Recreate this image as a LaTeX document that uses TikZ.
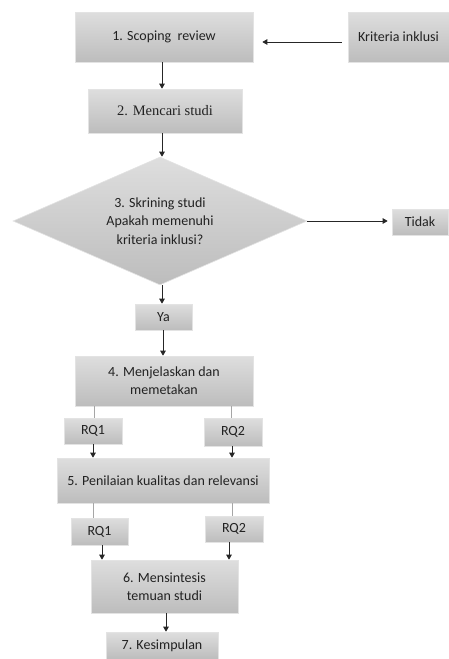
\documentclass[tikz,border=0pt]{standalone}
\usepackage{fontspec}
\setmainfont{Carlito}
\newfontfamily\timesfont{Liberation Serif}
\usetikzlibrary{arrows.meta,shapes.geometric}
\definecolor{txt}{HTML}{222222}
\tikzset{
  x=1pt,y=-1pt,
  boxshape/.style={rectangle,inner sep=0pt,top color=gray!26,bottom color=gray!52,
    draw=gray!22,line width=0.6pt,text=txt,align=center,
    font=\fontsize{14}{18}\selectfont},
  arr/.style={draw=black!85,line width=0.9pt,-{Triangle[length=5pt,width=5.5pt]}},
  gline/.style={draw=gray!70,line width=0.8pt},
}
\begin{document}
\begin{tikzpicture}
\useasboundingbox (0,0) rectangle (449,659);
\node[boxshape,minimum width=178pt,minimum height=50pt] (b1) at (164,37) {1. Scoping\ \ review};
\node[boxshape,minimum width=101pt,minimum height=50pt] (krit) at (398.5,37) {Kriteria inklusi};
\node[boxshape,minimum width=154pt,minimum height=44pt,font=\timesfont\fontsize{14.5}{18}\selectfont] (b2) at (165,111) {2. Mencari studi};
\node[boxshape,diamond,aspect=2.3,minimum width=294pt,minimum height=128pt,font=\fontsize{14}{18.5}\selectfont] (d3) at (160,221) {3. Skrining studi\\Apakah memenuhi\\kriteria inklusi?};
\node[boxshape,minimum width=56pt,minimum height=26pt] (tidak) at (420,222) {Tidak};
\node[boxshape,minimum width=57pt,minimum height=26pt] (ya) at (163.5,317) {Ya};
\node[boxshape,minimum width=178pt,minimum height=50pt] (b4) at (164,381) {4. Menjelaskan dan\\memetakan};
\node[boxshape,minimum width=58pt,minimum height=26pt] (rq1a) at (93,431) {RQ1};
\node[boxshape,minimum width=58pt,minimum height=28pt] (rq2a) at (233,432) {RQ2};
\node[boxshape,minimum width=212pt,minimum height=45pt] (b5) at (163,480.5) {5. Penilaian kualitas dan relevansi};
\node[boxshape,minimum width=57pt,minimum height=27pt] (rq1b) at (99.5,531.5) {RQ1};
\node[boxshape,minimum width=58pt,minimum height=26pt] (rq2b) at (234,529) {RQ2};
\node[boxshape,minimum width=147pt,minimum height=53pt] (b6) at (164.5,586.5) {6. Mensintesis\\temuan studi};
\node[boxshape,minimum width=112pt,minimum height=27pt] (b7) at (162,645.5) {7. Kesimpulan};

\draw[arr] ([xshift=-6pt,yshift=-5pt]krit.west) -- ([xshift=9pt,yshift=-5pt]b1.east);
\draw[arr] (b1.south -| 162,0) -- (b2.north -| 162,0);
\draw[arr] (b2.south -| 162,0) -- (d3.north -| 162,0);
\draw[arr] (d3.east) -- ([xshift=-4pt]tidak.west |- d3.east);
\draw[arr] (d3.south -| 162,0) -- (ya.north -| 162,0);
\draw[arr] (ya.south -| 163,0) -- (b4.north -| 163,0);
\draw[gline] (b4.south -| 94,0) -- (rq1a.north -| 94,0);
\draw[gline] (b4.south -| 231,0) -- (rq2a.north -| 231,0);
\draw[arr] (rq1a.south -| 93,0) -- (b5.north -| 93,0);
\draw[arr] (rq2a.south -| 232,0) -- (b5.north -| 232,0);
\draw[gline] (b5.south -| 93,0) -- (rq1b.north -| 93,0);
\draw[gline] (b5.south -| 232,0) -- (rq2b.north -| 232,0);
\draw[arr] (rq1b.south -| 102,0) -- (b6.north -| 102,0);
\draw[arr] (rq2b.south -| 229,0) -- (b6.north -| 229,0);
\draw[arr] (b6.south -| 166,0) -- (b7.north -| 166,0);
\end{tikzpicture}
\end{document}
